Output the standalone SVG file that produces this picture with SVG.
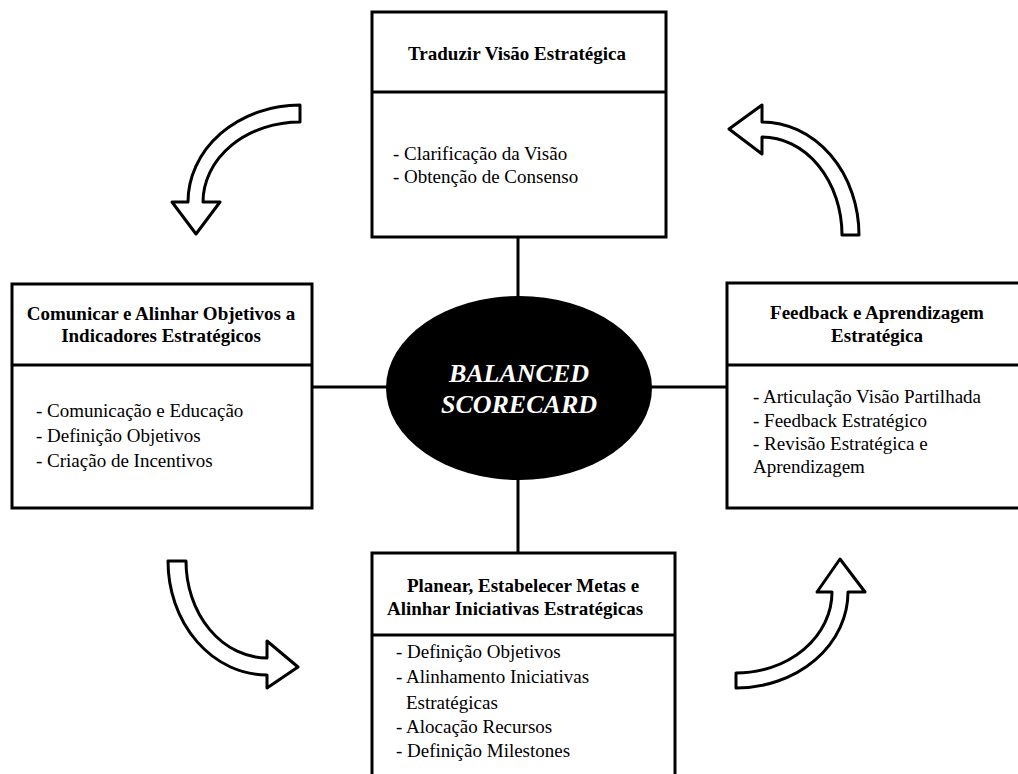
<svg xmlns="http://www.w3.org/2000/svg" width="1018" height="774" viewBox="0 0 1018 774">
<style>
.box{fill:#fff;stroke:#000;stroke-width:3}
.div{stroke:#000;stroke-width:3}
.conn{stroke:#000;stroke-width:3;fill:none}
.arrow{fill:#fff;stroke:#000;stroke-width:3;stroke-linejoin:round}
text{font-family:'Liberation Serif','Times New Roman',serif}
.title{font-size:19px;font-weight:bold;fill:#000;text-anchor:middle}
.body{font-size:19px;fill:#000}
.center{font-size:26px;font-style:italic;font-weight:bold;fill:#fff;text-anchor:middle}
</style>
<rect width="1018" height="774" fill="#fff"/>
<g id="connectors">
<line class="conn" x1="518" y1="237" x2="518" y2="300"/>
<line class="conn" x1="518" y1="476" x2="518" y2="553"/>
<line class="conn" x1="312" y1="387" x2="390" y2="387"/>
<line class="conn" x1="648" y1="387" x2="727" y2="387"/>
</g>
<g id="arrows">
<path class="arrow" d="M300,105 A112,97 0 0 0 188,202 L172,202 L196,234 L220,202 L203,202 A97,80 0 0 1 300,122 Z"/>
<path class="arrow" d="M729,129 L762,105 L762,122 A97,113 0 0 1 859,235 L842,235 A80,98 0 0 0 762,137 L762,154 Z"/>
<path class="arrow" d="M168,561 L186,561 A81,97 0 0 0 267,658 L267,641 L298,667 L267,688 L267,675 A99,114 0 0 1 168,561 Z"/>
<path class="arrow" d="M736,673 A96,81 0 0 0 832,592 L817,592 L840,559 L865,592 L848,592 A112,96 0 0 1 736,688 Z"/>
</g>
<g id="node-top">
<rect class="box" x="372" y="12" width="294" height="225"/>
<line class="div" x1="372" y1="92" x2="666" y2="92"/>
<text class="title" x="517" y="60">Traduzir Visão Estratégica</text>
<text class="body" x="393" y="160">- Clarificação da Visão</text>
<text class="body" x="393" y="183">- Obtenção de Consenso</text>
</g>
<g id="node-left">
<rect class="box" x="12" y="284" width="300" height="224"/>
<line class="div" x1="12" y1="365" x2="312" y2="365"/>
<text class="title" x="161" y="320">Comunicar e Alinhar Objetivos a</text>
<text class="title" x="161" y="342">Indicadores Estratégicos</text>
<text class="body" x="36" y="417">- Comunicação e Educação</text>
<text class="body" x="36" y="442">- Definição Objetivos</text>
<text class="body" x="36" y="467">- Criação de Incentivos</text>
</g>
<g id="node-right">
<rect class="box" x="727" y="283" width="305" height="225"/>
<line class="div" x1="727" y1="365" x2="1032" y2="365"/>
<text class="title" x="877" y="319">Feedback e Aprendizagem</text>
<text class="title" x="877" y="342">Estratégica</text>
<text class="body" x="753" y="403">- Articulação Visão Partilhada</text>
<text class="body" x="753" y="427">- Feedback Estratégico</text>
<text class="body" x="753" y="450">- Revisão Estratégica e</text>
<text class="body" x="753" y="473">Aprendizagem</text>
</g>
<g id="node-bottom">
<rect class="box" x="372" y="553" width="303" height="240"/>
<line class="div" x1="372" y1="635" x2="675" y2="635"/>
<text class="title" x="523" y="592">Planear, Estabelecer Metas e</text>
<text class="title" x="515" y="615">Alinhar Iniciativas Estratégicas</text>
<text class="body" x="396" y="658">- Definição Objetivos</text>
<text class="body" x="396" y="683">- Alinhamento Iniciativas</text>
<text class="body" x="406" y="709">Estratégicas</text>
<text class="body" x="396" y="733">- Alocação Recursos</text>
<text class="body" x="396" y="757">- Definição Milestones</text>
</g>
<g id="node-center">
<ellipse cx="519" cy="388" rx="133" ry="92" fill="#000"/>
<text class="center" x="519" y="382">BALANCED</text>
<text class="center" x="519" y="413">SCORECARD</text>
</g>
</svg>
